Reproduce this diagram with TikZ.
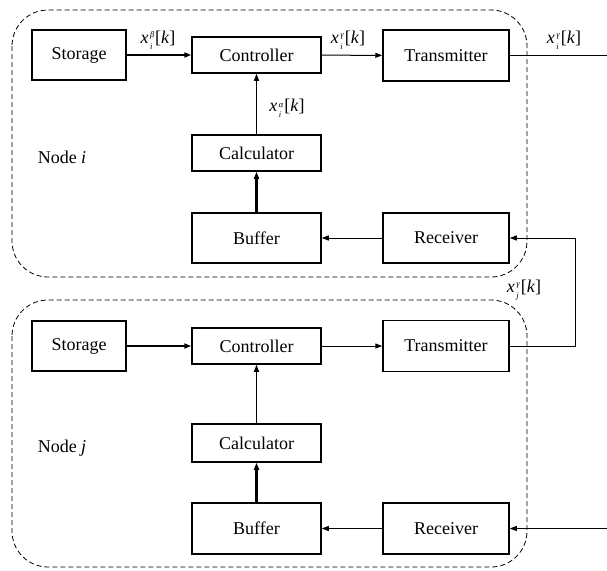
\documentclass[tikz,border=0pt]{standalone}
\usepackage{fontspec}
\setmainfont{Liberation Serif}
\usetikzlibrary{arrows.meta}
\newcommand{\sxv}[2]{\textit{x}\kern1.5pt\raisebox{-0.75ex}{\fontsize{8.5}{8.5}\selectfont\itshape\shortstack[l]{#1\\[1.5pt]#2}}\kern1pt[\textit{k}]}
\begin{document}
\begin{tikzpicture}[x=1pt,y=-1pt,
  font=\fontsize{18}{20}\selectfont,
  blk/.style={draw,line width=1.5pt,inner sep=0pt},
  grp/.style={draw,dash pattern=on 5pt off 3pt,line width=0.8pt,rounded corners=36pt},
  arr/.style={line width=1pt,-{Triangle[length=7pt,width=5pt]}},
  tarr/.style={line width=2.2pt,-{Triangle[length=7pt,width=5pt]}},
  ln/.style={line width=1pt},
  lbl/.style={inner sep=0pt}]
\useasboundingbox (0,0) rectangle (607,570);
% groups
\draw[grp] (12,10) rectangle (527,277);
\draw[grp] (12,300) rectangle (527,567);
% node i
\node[blk,minimum width=94pt,minimum height=50pt] (si) at (79,55) {Storage};
\node[blk,minimum width=129pt,minimum height=36pt] (ci) at (256.5,55) {Controller};
\node[blk,minimum width=126pt,minimum height=51pt] (ti) at (446,55.5) {Transmitter};
\node[blk,minimum width=129pt,minimum height=36pt] (ki) at (256.5,153) {Calculator};
\node[blk,minimum width=129pt,minimum height=50pt] (bi) at (256.5,238) {Buffer};
\node[blk,minimum width=126pt,minimum height=50pt] (ri) at (446,238) {Receiver};
\node[lbl] (ni) at (62,157) {Node \textit{i}};
% node j
\node[blk,minimum width=94pt,minimum height=50pt] (sj) at (79,346) {Storage};
\node[blk,minimum width=129pt,minimum height=36pt] (cj) at (256.5,346) {Controller};
\node[blk,minimum width=126pt,minimum height=51pt] (tj) at (446,346) {Transmitter};
\node[blk,minimum width=129pt,minimum height=38pt] (kj) at (256.5,443) {Calculator};
\node[blk,minimum width=129pt,minimum height=51pt] (bj) at (256.5,528.5) {Buffer};
\node[blk,minimum width=126pt,minimum height=51pt] (rj) at (446,528.5) {Receiver};
\node[lbl] (nj) at (62,448) {Node \textit{j}};
% coordinates
\coordinate (outi) at (607,55.5);
\coordinate (bend1) at (575,346);
\coordinate (bend2) at (575,238);
\coordinate (inj) at (607,528.5);
% connectors i
\draw[tarr] (si) -- (ci);
\draw[arr] (ci) -- (ti);
\draw[arr] (ki) -- (ci);
\draw[tarr] (bi) -- (ki);
\draw[arr] (ri) -- (bi);
\draw[ln] (ti) -- (outi);
% connectors j
\draw[tarr] (sj) -- (cj);
\draw[arr] (cj) -- (tj);
\draw[arr] (kj) -- (cj);
\draw[tarr] (bj) -- (kj);
\draw[arr] (rj) -- (bj);
\draw[arr] (tj.east) -- (bend1) -- (bend2) -- (ri.east);
\draw[arr] (inj) -- (rj);
% labels
\node[lbl] (lb) at (158,40) {\sxv{β}{i}};
\node[lbl] (lg) at (348,40) {\sxv{γ}{i}};
\node[lbl] (la) at (287,108) {\sxv{α}{i}};
\node[lbl] (lo) at (564,40) {\sxv{γ}{i}};
\node[lbl] (lj) at (524,290) {\sxv{γ}{j}};
\end{tikzpicture}
\end{document}
